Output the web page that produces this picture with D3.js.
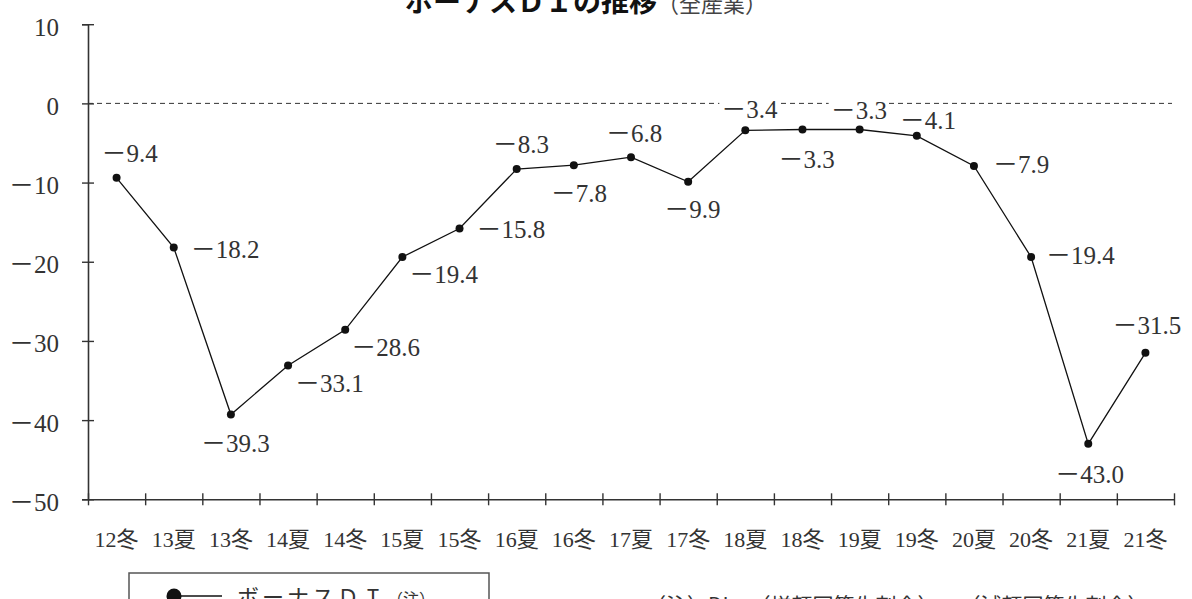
<!DOCTYPE html>
<html><head><meta charset="utf-8">
<script src="https://cdn.jsdelivr.net/npm/d3@7"></script>
<style>body{margin:0;background:#fff;} svg{display:block;}</style>
</head><body>
<svg id="c" width="1192" height="599"></svg>
<script>
// ---- data ----
const categories = ["12冬","13夏","13冬","14夏","14冬","15夏","15冬","16夏","16冬","17夏","17冬","18夏","18冬","19夏","19冬","20夏","20冬","21夏","21冬"];
const bonusDI = [-9.4,-18.2,-39.3,-33.1,-28.6,-19.4,-15.8,-8.3,-7.8,-6.8,-9.9,-3.4,-3.3,-3.3,-4.1,-7.9,-19.4,-43.0,-31.5];
const yTicks = [10,0,-10,-20,-30,-40,-50];
const titleMain = "ボーナスＤＩの推移";
const titleSub = "（全産業）";
const legendLabel = "ボーナスＤＩ";
const legendNote = "（注）";
const noteText = "（注）DI＝（増額回答先割合）－（減額回答先割合）";

// ---- layout (label placement relative to each point) ----
const labelOffsets = [[-13,-16],[19,11],[-28,37],[9,27],[8,26],[9,26],[19,10],[-22,-16],[-21,37],[-23,-15],[-22,36],[-22,-12],[-22,38],[-27,-11],[-15,-7],[21,7],[17,7],[-31,39],[-31,-19]];

const svg = d3.select("#c");
const serif = "'Liberation Serif','Noto Sans CJK JP',serif";
const jp = "'Noto Sans CJK JP',sans-serif";
const plotL = 88, plotR = 1174, plotT = 24.2, plotB = 499.3;

const y = d3.scaleLinear().domain([-50,10]).range([plotB, plotT]);
const x = d3.scaleBand().domain(categories).range([plotL, plotR]).paddingInner(0).paddingOuter(0);
const xIdx = d3.scaleLinear().domain([0, categories.length]).range([plotL, plotR]);
const cx = c => x(c) + x.bandwidth()/2;
const fmt = v => v < 0 ? "－" + Math.abs(v) : String(v);
const fmtLabel = v => "－" + Math.abs(v).toFixed(1);

// title (mostly off the top edge)
const t = svg.append("text").attr("x", 405).attr("y", 12).attr("font-family", jp);
t.append("tspan").attr("font-size", 28).attr("font-weight", "bold").attr("fill", "#111").text(titleMain);
t.append("tspan").attr("font-size", 22).attr("fill", "#444").text(titleSub);

// zero dashed line
svg.append("line")
  .attr("x1", plotL).attr("x2", plotR - 2)
  .attr("y1", y(0)).attr("y2", y(0))
  .attr("stroke", "#333").attr("stroke-width", 1).attr("stroke-dasharray", "5,4");

// y axis
const yAxis = svg.append("g").attr("transform", `translate(${plotL},0)`)
  .call(d3.axisLeft(y).tickValues(yTicks).tickSizeOuter(0).tickSize(6).tickFormat(fmt));
yAxis.select(".domain").attr("stroke", "#333").attr("stroke-width", 1.6);
yAxis.selectAll(".tick line").attr("x1", -6).attr("x2", 6).attr("stroke", "#333").attr("stroke-width", 1.4);
yAxis.selectAll(".tick text").attr("x", -29).attr("dy", null).attr("y", 11)
  .attr("font-family", serif).attr("font-size", 25).attr("fill", "#333");

// x axis ticks at band boundaries
const xAxis = svg.append("g").attr("transform", `translate(0,${plotB})`)
  .call(d3.axisBottom(xIdx).tickValues(d3.range(0, categories.length + 1)).tickSizeOuter(0).tickFormat(""));
xAxis.select(".domain").attr("stroke", "#333").attr("stroke-width", 1.6);
xAxis.selectAll(".tick line").attr("y1", -6).attr("y2", 6).attr("stroke", "#333").attr("stroke-width", 1.4);

// x category labels
const xLab = svg.append("g").attr("transform", `translate(0,${plotB})`)
  .call(d3.axisBottom(x).tickSize(0).tickSizeOuter(0));
xLab.select(".domain").remove();
xLab.selectAll(".tick text").attr("y", 48).attr("dy", null)
  .attr("font-family", serif).attr("font-size", 22).attr("fill", "#333");

// line
const pts = categories.map((c, i) => ({c, v: bonusDI[i], i}));
svg.append("path").datum(pts)
  .attr("fill", "none").attr("stroke", "#111").attr("stroke-width", 1.3)
  .attr("d", d3.line().x(d => cx(d.c)).y(d => y(d.v)));

// labels with white background
const lg = svg.append("g");
pts.forEach(d => {
  const [dx, dy] = labelOffsets[d.i];
  const g = lg.append("g");
  const txt = g.append("text")
    .attr("x", cx(d.c) + dx - 2).attr("y", y(d.v) + dy)
    .attr("font-family", serif).attr("font-size", 25).attr("fill", "#333")
    .text(fmtLabel(d.v));
  const bb = txt.node().getBBox();
  g.insert("rect", "text")
    .attr("x", bb.x - 2).attr("width", bb.width + 4)
    .attr("y", y(d.v) + dy - 20).attr("height", 23)
    .attr("fill", "#fff");
});

// points
svg.append("g").selectAll("circle").data(pts).join("circle")
  .attr("cx", d => cx(d.c)).attr("cy", d => y(d.v)).attr("r", 4).attr("fill", "#111");

// legend box
svg.append("rect").attr("x", 129).attr("y", 573).attr("width", 360).attr("height", 80)
  .attr("fill", "none").attr("stroke", "#555").attr("stroke-width", 1.5);
svg.append("line").attr("x1", 174).attr("x2", 222).attr("y1", 596).attr("y2", 596)
  .attr("stroke", "#111").attr("stroke-width", 1.5);
svg.append("circle").attr("cx", 174).attr("cy", 596).attr("r", 7.5).attr("fill", "#111");
const lt = svg.append("text").attr("x", 237).attr("y", 605).attr("font-family", jp).attr("fill", "#333");
lt.append("tspan").attr("font-size", 22).attr("letter-spacing", 3).text(legendLabel);
lt.append("tspan").attr("font-size", 16).text(legendNote);

// footnote (mostly below the bottom edge)
svg.append("text").attr("x", 645).attr("y", 613).attr("font-family", jp)
  .attr("font-size", 21).attr("fill", "#333").text(noteText);
</script>
</body></html>
